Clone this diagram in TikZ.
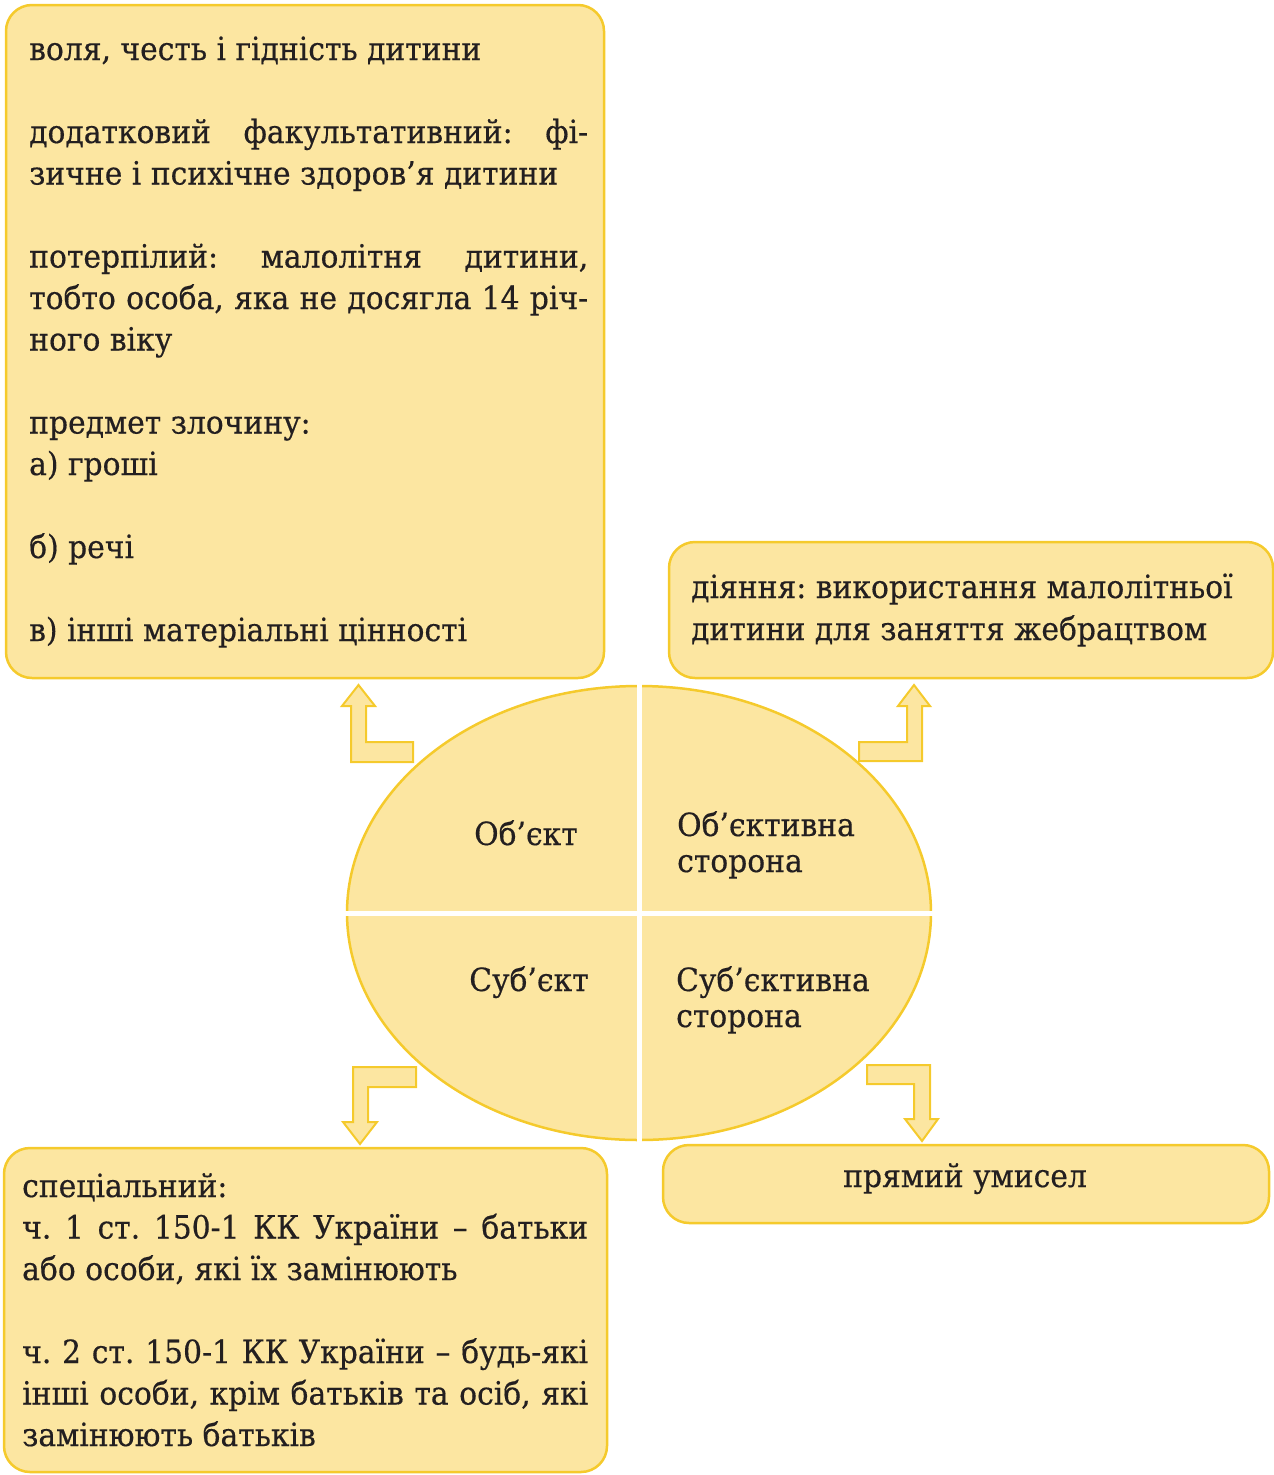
\documentclass[tikz,border=0pt]{standalone}
\usepackage{fontspec}
\setmainfont{DejaVu Serif}[FakeStretch=0.93,FakeBold=0.4]
\usetikzlibrary{shapes.geometric}
\definecolor{boxfill}{HTML}{FCE6A1}
\definecolor{boxline}{HTML}{F5CA2C}
\definecolor{ink}{HTML}{231F20}
\newcommand\tline[4]{\node[txt] (#1) at (#2,#3) {#4};}
\newcommand\jline[5]{\node[txt] (#1) at (#2,#3) {\makebox[#4pt][s]{#5}};}
\begin{document}
\begin{tikzpicture}[x=1pt,y=-1pt,
  box/.style={draw=boxline, fill=boxfill, line width=2.5pt, rounded corners=26pt, anchor=north west, inner sep=0pt, outer sep=0pt},
  txt/.style={anchor=base west, inner sep=0pt, text=ink, font=\fontsize{32}{40}\selectfont\frenchspacing},
  ctxt/.style={anchor=base, inner sep=0pt, text=ink, font=\fontsize{32}{40}\selectfont\frenchspacing},
  barrow/.style={draw=boxline, fill=boxfill, line width=2pt, line join=miter}]
\useasboundingbox (0,0) rectangle (1274,1475);

% boxes
\node[box, minimum width=598pt, minimum height=673pt] (objbox) at (6,5) {};
\node[box, minimum width=604pt, minimum height=136pt] (actbox) at (669,542) {};
\node[box, minimum width=603pt, minimum height=324pt] (subbox) at (4,1148) {};
\node[box, minimum width=606pt, minimum height=78pt] (mindbox) at (663,1145) {};

% central ellipse
\node[ellipse, draw=boxline, fill=boxfill, line width=2.5pt, minimum width=584pt, minimum height=454pt, inner sep=0pt] (core) at (639,913) {};
\draw[white, line width=5pt] ([yshift=4pt]core.north) -- ([yshift=-4pt]core.south);
\draw[white, line width=5pt] ([xshift=-4pt]core.west) -- ([xshift=4pt]core.east);

% bent arrows
\draw[barrow] (413,742) -- (366,742) -- (366,706) -- (375,706) -- (358.5,685) -- (342,706) -- (351,706) -- (351,762) -- (413,762) -- cycle;
\draw[barrow] (859,742) -- (907,742) -- (907,706) -- (898,706) -- (914,685) -- (930,706) -- (922,706) -- (922,761) -- (859,761) -- cycle;
\draw[barrow] (416,1067) -- (353,1067) -- (353,1122) -- (343,1122) -- (360,1144) -- (377,1122) -- (368,1122) -- (368,1087) -- (416,1087) -- cycle;
\draw[barrow] (867,1065) -- (930,1065) -- (930,1119) -- (938,1119) -- (922,1141) -- (905,1119) -- (914,1119) -- (914,1084) -- (867,1084) -- cycle;

% ellipse labels
\node[ctxt] (lobj) at (526,845) {Об’єкт};
\tline{lobs1}{677}{836}{Об’єктивна}
\tline{lobs2}{677}{872}{сторона}
\node[ctxt] (lsub) at (529,991) {Суб’єкт};
\tline{lsbs1}{676}{991}{Суб’єктивна}
\tline{lsbs2}{676}{1027}{сторона}

% object box text
\tline{o1}{29}{60}{воля, честь і гідність дитини}
\jline{o2}{29}{143}{559}{додатковий факультативний: фі-}
\tline{o3}{29}{184.5}{зичне і психічне здоров’я дитини}
\jline{o4}{29}{267.5}{559}{потерпілий: малолітня дитини,}
\jline{o5}{29}{309}{559}{тобто особа, яка не досягла 14 річ-}
\tline{o6}{29}{350.5}{ного віку}
\tline{o7}{29}{433.5}{предмет злочину:}
\tline{o8}{29}{475}{а) гроші}
\tline{o9}{29}{558}{б) речі}
\tline{o10}{29}{641}{в) інші матеріальні цінності}

% act box text
\tline{a1}{691}{598}{діяння: використання малолітньої}
\tline{a2}{691}{640}{дитини для заняття жебрацтвом}

% subject box text
\tline{s1}{22}{1197}{спеціальний:}
\jline{s2}{22}{1238.5}{566}{ч. 1 ст. 150-1 КК України – батьки}
\tline{s3}{22}{1280}{або особи, які їх замінюють}
\jline{s4}{22}{1363}{566}{ч. 2 ст. 150-1 КК України – будь-які}
\jline{s5}{22}{1404.5}{566}{інші особи, крім батьків та осіб, які}
\tline{s6}{22}{1446}{замінюють батьків}

% mind box text
\node[ctxt] (m1) at (965,1187) {прямий умисел};
\end{tikzpicture}
\end{document}
